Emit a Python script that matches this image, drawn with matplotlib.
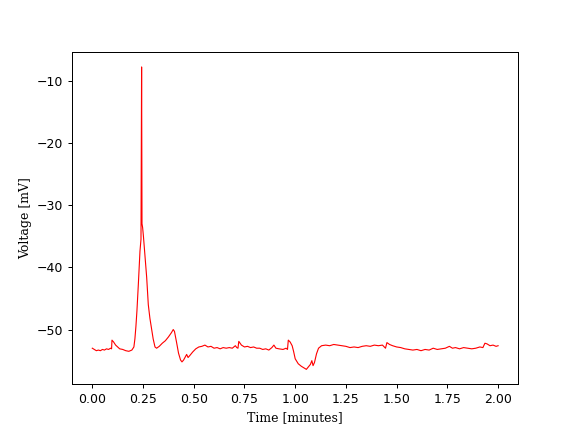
import numpy as np
import matplotlib
matplotlib.use('Agg')
import matplotlib.pyplot as plt

# time [minutes] and membrane voltage [mV]
time_min = [
    0.000, 0.010, 0.020, 0.030, 0.040, 0.050, 0.060, 0.070, 0.080, 0.090,
    0.095, 0.097, 0.105, 0.115, 0.125, 0.135, 0.150, 0.165, 0.180, 0.195,
    0.205, 0.210, 0.215, 0.220, 0.227, 0.235, 0.240, 0.242, 0.243, 0.244,
    0.245, 0.248, 0.252, 0.260, 0.268, 0.276, 0.284, 0.292, 0.300, 0.309,
    0.317, 0.330, 0.345, 0.360, 0.375, 0.390, 0.399, 0.405, 0.415, 0.425,
    0.435, 0.442, 0.450, 0.458, 0.465, 0.472, 0.480, 0.495, 0.510, 0.525,
    0.540, 0.555, 0.570, 0.585, 0.600, 0.615, 0.630, 0.645, 0.660, 0.675,
    0.690, 0.705, 0.712, 0.718, 0.722, 0.735, 0.750, 0.765, 0.780, 0.795,
    0.810, 0.825, 0.840, 0.855, 0.870, 0.885, 0.895, 0.905, 0.920, 0.940,
    0.955, 0.962, 0.966, 0.975, 0.985, 0.992, 1.000, 1.015, 1.030, 1.045,
    1.055, 1.065, 1.075, 1.082, 1.088, 1.095, 1.105, 1.115, 1.130, 1.150,
    1.170, 1.190, 1.210, 1.230, 1.250, 1.270, 1.290, 1.310, 1.330, 1.350,
    1.370, 1.390, 1.410, 1.430, 1.445, 1.452, 1.465, 1.480, 1.500, 1.520,
    1.540, 1.560, 1.580, 1.600, 1.620, 1.640, 1.660, 1.680, 1.700, 1.720,
    1.740, 1.760, 1.775, 1.790, 1.810, 1.830, 1.850, 1.870, 1.890, 1.910,
    1.925, 1.935, 1.945, 1.960, 1.975, 1.990, 2.000,
]
voltage_mv = [
    -53.0, -53.2, -53.4, -53.3, -53.4, -53.2, -53.3, -53.1, -53.2, -53.0,
    -53.1, -51.7, -52.0, -52.5, -52.8, -53.1, -53.2, -53.4, -53.5, -53.3,
    -52.8, -51.5, -49.5, -47.0, -42.7, -37.4, -35.5, -15.0, -7.8, -20.0,
    -33.0, -33.6, -35.0, -38.4, -41.6, -46.0, -48.2, -49.8, -51.5, -52.8,
    -53.0, -52.7, -52.2, -51.8, -51.2, -50.5, -50.0, -50.3, -52.0, -53.8,
    -54.9, -55.2, -54.9, -54.4, -54.0, -54.5, -54.2, -53.6, -53.1, -52.8,
    -52.7, -52.5, -52.8, -52.7, -53.0, -52.9, -53.1, -52.9, -53.0, -52.9,
    -53.0, -52.6, -52.9, -53.0, -51.9, -52.5, -52.8, -52.7, -52.9, -52.8,
    -53.0, -53.0, -53.2, -53.1, -53.3, -52.9, -52.5, -53.0, -53.1, -53.2,
    -53.0, -53.2, -51.7, -52.0, -52.6, -53.5, -54.7, -55.5, -55.9, -56.2,
    -56.4, -56.0, -55.6, -55.0, -55.8, -55.3, -53.9, -53.0, -52.6, -52.5,
    -52.6, -52.4, -52.5, -52.6, -52.7, -52.9, -52.8, -52.9, -52.7, -52.6,
    -52.7, -52.5, -52.6, -52.5, -53.0, -52.1, -52.4, -52.6, -52.8, -52.9,
    -53.1, -53.2, -53.3, -53.2, -53.4, -53.2, -53.3, -53.0, -53.2, -53.1,
    -53.0, -52.7, -53.0, -52.9, -53.1, -52.9, -53.0, -53.1, -53.0, -52.8,
    -52.9, -52.2, -52.3, -52.6, -52.5, -52.7, -52.6,
]

fig, ax = plt.subplots(figsize=(6.4, 4.8), dpi=90)
ax.plot(time_min, voltage_mv, color='red', linewidth=0.9)
ax.set_xlabel('Time [minutes]', family='DejaVu Serif')
ax.set_ylabel('Voltage [mV]', family='DejaVu Serif')
fig.savefig('out.png', dpi=90)
